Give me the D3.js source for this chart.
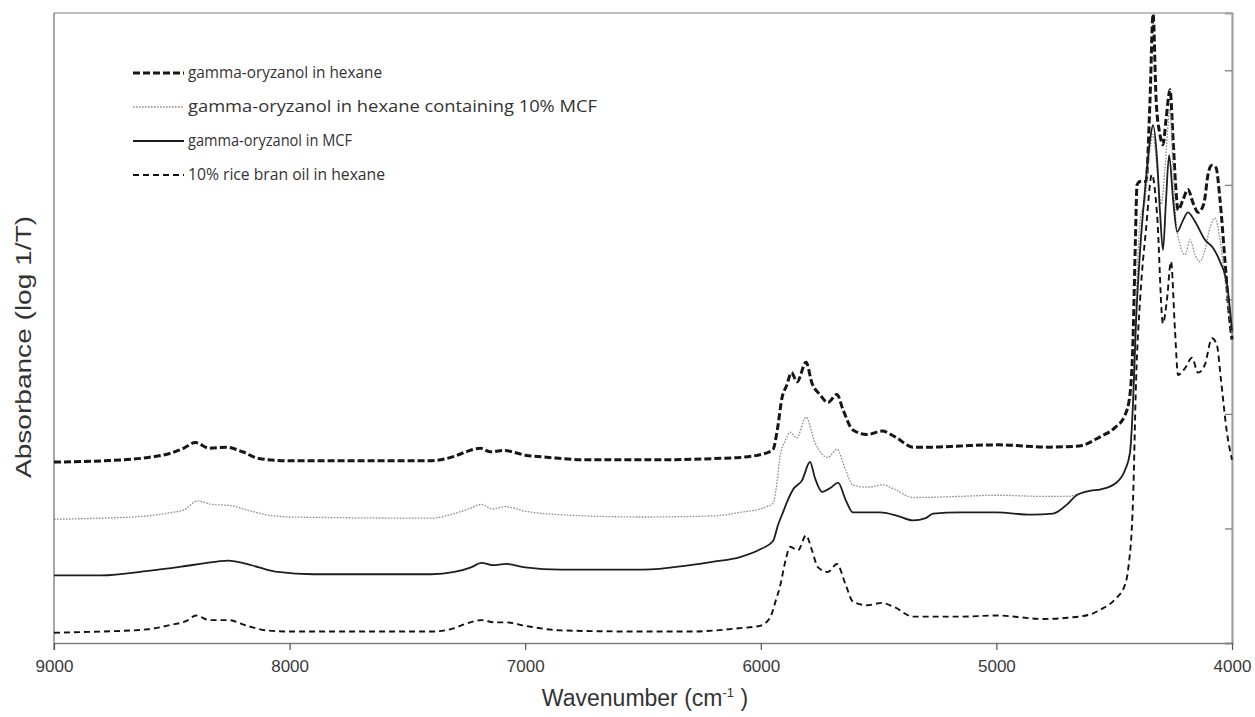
<!DOCTYPE html>
<html>
<head>
<meta charset="utf-8">
<script src="https://cdn.jsdelivr.net/npm/d3@7"></script>
<style>
  html, body { margin: 0; padding: 0; background: #fff; }
  svg { display: block; }
</style>
</head>
<body>
<svg id="chart" width="1255" height="717"></svg>
<script>
// ---------------- DATA (wavenumber cm-1, absorbance log 1/T) ----------------
const seriesNames = [
  "gamma-oryzanol in hexane",
  "gamma-oryzanol in hexane containing 10% MCF",
  "gamma-oryzanol in MCF",
  "10% rice bran oil in hexane"
];

const xTicks = [9000, 8000, 7000, 6000, 5000, 4000];
const yTicks = [1, 2, 3, 4, 5];

const hexane = [
  [9000,1.58],[8800,1.59],[8600,1.62],[8500,1.66],[8450,1.70],[8400,1.75],[8340,1.70],[8270,1.71],
  [8200,1.67],[8130,1.61],[8000,1.59],[7700,1.59],[7410,1.59],[7300,1.63],[7250,1.67],[7190,1.70],
  [7150,1.67],[7090,1.68],[7000,1.64],[6900,1.62],[6750,1.60],[6400,1.60],[6200,1.61],[6088,1.62],
  [5975,1.66],[5948,1.69],[5930,1.86],[5910,2.14],[5890,2.25],[5870,2.36],[5846,2.28],[5808,2.45],
  [5783,2.27],[5750,2.17],[5715,2.10],[5677,2.17],[5650,2.03],[5609,1.86],[5550,1.82],[5486,1.85],
  [5430,1.80],[5354,1.71],[5270,1.71],[5154,1.72],[4990,1.73],[4780,1.71],[4650,1.72],[4560,1.80],
  [4497,1.88],[4454,1.99],[4433,2.17],[4420,2.65],[4410,3.52],[4403,4.00],[4390,4.03],[4365,4.03],
  [4348,4.74],[4335,5.49],[4322,4.74],[4306,4.44],[4293,4.35],[4280,4.57],[4263,4.83],[4250,4.39],
  [4238,3.96],[4229,3.78],[4208,3.87],[4187,3.96],[4165,3.84],[4144,3.76],[4120,3.83],[4100,4.11],
  [4085,4.17],[4068,4.15],[4051,3.87],[4030,3.34],[4010,2.83],[4000,2.65]
];

const hexaneMCF = [
  [9000,1.08],[8800,1.09],[8600,1.11],[8500,1.14],[8450,1.16],[8390,1.24],[8330,1.21],[8250,1.20],
  [8180,1.16],[8100,1.12],[8000,1.10],[7400,1.09],[7300,1.13],[7240,1.17],[7185,1.21],[7140,1.17],
  [7085,1.19],[7000,1.15],[6850,1.12],[6500,1.10],[6200,1.11],[6088,1.14],[5975,1.19],[5948,1.22],
  [5930,1.42],[5919,1.62],[5895,1.77],[5876,1.84],[5848,1.79],[5808,1.97],[5770,1.75],[5715,1.62],
  [5677,1.69],[5640,1.51],[5609,1.38],[5550,1.36],[5483,1.38],[5430,1.34],[5355,1.27],[5155,1.28],
  [5000,1.29],[4800,1.28],[4700,1.28],[4650,1.30],[4600,1.33],[4560,1.34],[4497,1.39],[4454,1.51],
  [4433,1.69],[4420,2.12],[4410,2.82],[4400,3.34],[4390,3.69],[4369,3.87],[4348,4.31],[4335,4.44],
  [4318,4.13],[4300,3.83],[4285,4.13],[4263,4.66],[4250,4.13],[4238,3.69],[4221,3.48],[4199,3.39],
  [4178,3.52],[4157,3.39],[4136,3.33],[4115,3.43],[4093,3.63],[4072,3.71],[4051,3.52],[4030,3.17],
  [4010,2.86],[4000,2.69]
];

const mcf = [
  [9000,0.59],[8800,0.59],[8600,0.63],[8450,0.67],[8380,0.69],[8260,0.72],[8200,0.70],[8130,0.66],
  [8050,0.62],[7900,0.60],[7400,0.60],[7300,0.62],[7230,0.66],[7185,0.70],[7140,0.68],[7080,0.69],
  [7000,0.66],[6850,0.64],[6500,0.64],[6300,0.68],[6200,0.71],[6088,0.75],[6000,0.82],[5948,0.89],
  [5927,1.03],[5906,1.14],[5885,1.25],[5863,1.34],[5825,1.42],[5791,1.58],[5770,1.44],[5740,1.32],
  [5700,1.36],[5672,1.40],[5640,1.25],[5609,1.14],[5550,1.14],[5494,1.14],[5420,1.11],[5354,1.07],
  [5300,1.09],[5269,1.13],[5154,1.14],[5000,1.14],[4850,1.12],[4760,1.13],[4700,1.21],[4660,1.29],
  [4600,1.33],[4560,1.34],[4497,1.39],[4454,1.51],[4433,1.66],[4420,2.10],[4407,2.82],[4390,3.43],
  [4369,3.96],[4348,4.39],[4335,4.52],[4318,4.22],[4306,3.78],[4293,3.43],[4280,3.87],[4267,4.26],
  [4250,3.87],[4233,3.59],[4208,3.69],[4187,3.76],[4157,3.68],[4115,3.52],[4081,3.45],[4051,3.33],
  [4021,3.13],[4000,2.73]
];

const riceBran = [
  [9000,0.09],[8800,0.10],[8600,0.12],[8500,0.16],[8440,0.19],[8397,0.24],[8340,0.20],[8260,0.20],
  [8180,0.15],[8100,0.11],[8000,0.10],[7400,0.10],[7300,0.13],[7250,0.17],[7185,0.20],[7130,0.18],
  [7080,0.18],[7000,0.15],[6850,0.11],[6500,0.10],[6300,0.10],[6088,0.13],[6003,0.15],[5961,0.22],
  [5935,0.38],[5919,0.49],[5895,0.72],[5876,0.84],[5842,0.81],[5808,0.94],[5783,0.81],[5757,0.66],
  [5715,0.62],[5677,0.69],[5640,0.51],[5609,0.36],[5549,0.33],[5486,0.35],[5430,0.31],[5354,0.23],
  [5154,0.23],[5000,0.24],[4800,0.21],[4700,0.22],[4600,0.25],[4560,0.29],[4497,0.38],[4454,0.51],
  [4441,0.64],[4420,1.25],[4407,2.30],[4390,3.00],[4365,3.61],[4340,4.09],[4318,3.74],[4293,2.79],
  [4276,3.00],[4259,3.33],[4242,2.73],[4229,2.34],[4199,2.40],[4170,2.49],[4144,2.36],[4115,2.43],
  [4085,2.66],[4064,2.60],[4047,2.30],[4021,1.83],[4000,1.60]
];

const seriesData = [hexane, hexaneMCF, mcf, riceBran];

// ---------------- STYLES ----------------
const styles = [
  { stroke: "#161616", width: 3.0, dash: "7,3" },
  { stroke: "#8c8c8c", width: 1.3, dash: "1.6,1.4" },
  { stroke: "#1e1e1e", width: 1.8, dash: null },
  { stroke: "#111111", width: 1.9, dash: "6,4" }
];

// ---------------- LAYOUT ----------------
const svg = d3.select("#chart");
const L = 54, R = 1232, T = 13, B = 643;

const x = d3.scaleLinear().domain([9000, 4000]).range([L, R]);
const y = d3.scaleLinear().domain([0, 5.5]).range([B, T]);

// frame top
svg.append("line").attr("x1", L).attr("x2", R).attr("y1", T).attr("y2", T)
  .attr("stroke", "#a8a8a8").attr("stroke-width", 1.5);

// left axis line (no ticks)
svg.append("line").attr("x1", L).attr("x2", L).attr("y1", T).attr("y2", B + 7)
  .attr("stroke", "#8a8a8a").attr("stroke-width", 1.5);

// right axis with inward ticks
const rightAxis = svg.append("g").attr("transform", `translate(${R},0)`)
  .call(d3.axisLeft(y).tickValues(yTicks).tickSize(7).tickFormat(""));
rightAxis.select(".domain").attr("stroke", "#a0a0a0").attr("stroke-width", 2.2);
rightAxis.selectAll(".tick line").attr("stroke", "#777").attr("stroke-width", 1.2);

// bottom axis
const bottomAxis = svg.append("g").attr("transform", `translate(0,${B})`)
  .call(d3.axisBottom(x).tickValues(xTicks).tickSize(7).tickSizeOuter(0).tickPadding(10).tickFormat(d3.format("d")));
bottomAxis.select(".domain").attr("stroke", "#808080").attr("stroke-width", 1.6);
bottomAxis.selectAll(".tick line").attr("stroke", "#555").attr("stroke-width", 1.2);
bottomAxis.selectAll(".tick text")
  .attr("font-family", "'Liberation Sans', Arial, sans-serif")
  .attr("font-size", 17).attr("fill", "#3a3a3a");

// axis titles
const xt = svg.append("text").attr("x", 645).attr("y", 706)
  .attr("text-anchor", "middle")
  .attr("font-family", "'Liberation Sans', Arial, sans-serif")
  .attr("font-size", 23).attr("fill", "#333");
xt.append("tspan").text("Wavenumber (cm");
xt.append("tspan").attr("dy", -9).attr("font-size", 13).text("-1");
xt.append("tspan").attr("dy", 9).text("  )");

svg.append("text")
  .attr("transform", "translate(31,347) rotate(-90)")
  .attr("text-anchor", "middle")
  .attr("font-family", "'Liberation Sans', Arial, sans-serif")
  .attr("font-size", 22).attr("fill", "#333")
  .attr("textLength", 262).attr("lengthAdjust", "spacingAndGlyphs")
  .text("Absorbance (log 1/T)");

// lines
const line = d3.line().x(d => x(d[0])).y(d => y(d[1])).curve(d3.curveMonotoneX);
seriesData.forEach((data, i) => {
  const s = styles[i];
  svg.append("path").datum(data)
    .attr("d", line)
    .attr("fill", "none")
    .attr("stroke", s.stroke)
    .attr("stroke-width", s.width)
    .attr("stroke-dasharray", s.dash)
    .attr("stroke-linejoin", "round");
});

// legend
const legendY = [73, 107, 141, 175];
const legendLen = [194, 409, 164, 197];
const lg = svg.append("g");
seriesNames.forEach((name, i) => {
  const s = styles[i];
  lg.append("line")
    .attr("x1", 133).attr("x2", 184).attr("y1", legendY[i]).attr("y2", legendY[i])
    .attr("stroke", s.stroke).attr("stroke-width", s.width)
    .attr("stroke-dasharray", s.dash);
  lg.append("text")
    .attr("x", 188).attr("y", legendY[i] + 5)
    .attr("font-family", "'Open Sans', 'Noto Sans', sans-serif")
    .attr("font-size", 16).attr("fill", "#333")
    .attr("textLength", legendLen[i]).attr("lengthAdjust", "spacingAndGlyphs")
    .text(name);
});
</script>
</body>
</html>
